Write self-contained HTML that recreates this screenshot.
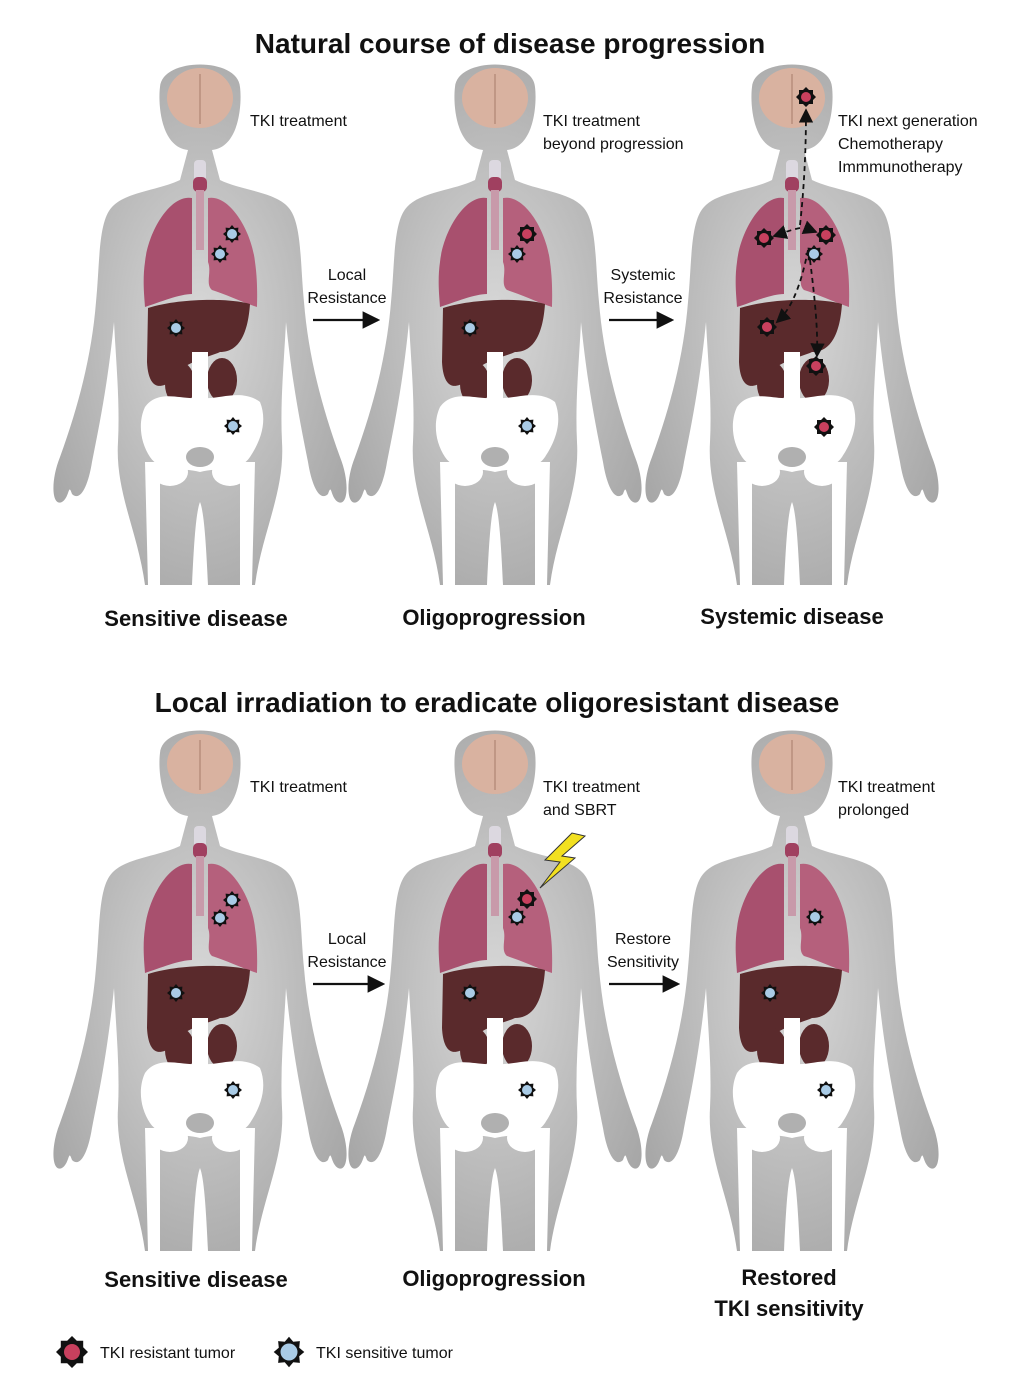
<!DOCTYPE html>
<html><head><meta charset="utf-8"><style>
body{margin:0;background:#fff;}
svg{display:block;}
text{font-family:"Liberation Sans",sans-serif;fill:#111;}
.t{font-size:28px;font-weight:bold;}
.l{font-size:22px;font-weight:bold;}
.s{font-size:16px;}
</style></head><body>
<svg width="1036" height="1386" viewBox="0 0 1036 1386" xmlns="http://www.w3.org/2000/svg">
<defs>
<radialGradient id="bg" cx="0.5" cy="0.5" r="0.6">
<stop offset="0" stop-color="#d8d8d8"/><stop offset="1" stop-color="#a6a6a6"/></radialGradient>
<g id="body">
<path fill="url(#bg)" d="M-12,88 C-40,85 -42,40 -40,25 C-38,-5 38,-5 40,25 C42,40 40,85 12,88 L20,118 C40,128 75,130 88,145 C102,160 100,200 104,240 C108,290 120,340 140,395 C150,420 148,445 138,440 C130,435 132,420 128,432 C120,440 112,425 108,400 C100,360 92,320 86,260 C84,300 80,340 82,380 C85,430 62,470 55,523 L8,523 C6,480 4,450 0,440 C-4,450 -6,480 -8,523 L-55,523 C-62,470 -85,430 -82,380 C-80,340 -84,300 -86,260 C-92,320 -100,360 -108,400 C-112,425 -120,440 -128,432 C-132,420 -130,435 -138,440 C-148,445 -150,420 -140,395 C-120,340 -108,290 -104,240 C-100,200 -102,160 -88,145 C-75,130 -40,128 -20,118 Z"/>
<ellipse cx="0" cy="36" rx="33" ry="30" fill="#d9b2a0"/>
<path d="M0,12 V62" stroke="#b88e7c" stroke-width="1.5"/>
<rect x="-6" y="98" width="12" height="25" rx="4" fill="#dcd8e0"/>
<rect x="-7" y="115" width="14" height="15" rx="5" fill="#a04060"/>
<rect x="-4" y="128" width="8" height="60" fill="#c89aaa"/>
<path fill="#a8506e" d="M-8,136 C-30,132 -52,170 -55,200 C-58,220 -55,240 -55,245 C-40,240 -20,232 -8,232 Z"/>
<path fill="#b5607c" d="M8,136 C30,132 52,170 55,200 C58,220 57,240 57,245 C42,240 25,232 12,228 C5,222 12,210 8,200 Z"/>
<path fill="#5a2a2c" d="M-52,246 C-20,236 30,236 50,242 C48,270 40,290 20,290 C10,295 -20,300 -30,320 C-45,330 -52,320 -53,300 Z"/>
<ellipse cx="-20" cy="322" rx="15" ry="22" fill="#5a2a2c"/>
<ellipse cx="22" cy="318" rx="15" ry="22" fill="#5a2a2c"/>
<rect x="-8" y="290" width="16" height="110" fill="#fff"/>
<path fill="#fff" d="M-55,345 C-40,325 -15,340 0,335 C15,340 40,325 60,340 C68,360 60,380 50,395 C40,410 20,405 0,410 C-20,405 -40,410 -50,395 C-60,380 -62,360 -55,345 Z"/>
<ellipse cx="-30" cy="410" rx="18" ry="14" fill="#fff"/>
<ellipse cx="30" cy="410" rx="18" ry="14" fill="#fff"/>
<path fill="#fff" d="M-55,400 L-40,400 L-40,523 L-52,523 Z M55,400 L40,400 L40,523 L52,523 Z"/>
<ellipse cx="0" cy="395" rx="14" ry="10" fill="#b0b0b0"/>
</g>
<g id="blue"><polygon fill="#111" points="0,-9 2.5,-6 6.4,-6.4 6,-2.5 9,0 6,2.5 6.4,6.4 2.5,6 0,9 -2.5,6 -6.4,6.4 -6,2.5 -9,0 -6,-2.5 -6.4,-6.4 -2.5,-6"/><circle r="5" fill="#a9cbe6"/></g>
<g id="red"><polygon fill="#111" points="0,-10 3,-7 7,-7 7,-3 10,0 7,3 7,7 3,7 0,10 -3,7 -7,7 -7,3 -10,0 -7,-3 -7,-7 -3,-7"/><circle r="5" fill="#c8405e"/></g>
<marker id="ah" markerWidth="8" markerHeight="8" refX="7" refY="4" orient="auto"><path d="M0,0 L8,4 L0,8 Z" fill="#111"/></marker>
</defs>

<text class="t" x="510" y="53" text-anchor="middle">Natural course of disease progression</text>
<use href="#body" x="200" y="62"/>
<use href="#body" x="495" y="62"/>
<use href="#body" x="792" y="62"/>
<use href="#blue" x="232" y="234"/><use href="#blue" x="220" y="254"/><use href="#blue" x="176" y="328"/><use href="#blue" x="233" y="426"/>
<use href="#red" x="527" y="234"/><use href="#blue" x="517" y="254"/><use href="#blue" x="470" y="328"/><use href="#blue" x="527" y="426"/>
<use href="#red" x="806" y="97"/><use href="#red" x="764" y="238"/><use href="#red" x="826" y="235"/><use href="#blue" x="814" y="254"/><use href="#red" x="767" y="327"/><use href="#red" x="816" y="366"/><use href="#red" x="824" y="427"/>
<g fill="none" stroke="#111" stroke-width="1.8" stroke-dasharray="5,4" marker-end="url(#ah)">
<path d="M800,225 C805,180 806,140 806,110"/>
<path d="M800,228 C790,230 780,234 774,236"/>
<path d="M806,228 L816,232"/>
<path d="M808,250 C800,290 790,310 777,322"/>
<path d="M810,260 C815,300 818,330 817,356"/>
</g>
<text class="s" x="250" y="126">TKI treatment</text>
<text class="s" x="543" y="126">TKI treatment</text><text class="s" x="543" y="149">beyond progression</text>
<text class="s" x="838" y="126">TKI next generation</text><text class="s" x="838" y="149">Chemotherapy</text><text class="s" x="838" y="172">Immmunotherapy</text>
<text class="s" x="347" y="280" text-anchor="middle">Local</text><text class="s" x="347" y="303" text-anchor="middle">Resistance</text>
<text class="s" x="643" y="280" text-anchor="middle">Systemic</text><text class="s" x="643" y="303" text-anchor="middle">Resistance</text>
<path d="M313,320 H378" stroke="#111" stroke-width="2.2" marker-end="url(#ah)"/>
<path d="M609,320 H672" stroke="#111" stroke-width="2.2" marker-end="url(#ah)"/>
<text class="l" x="196" y="626" text-anchor="middle">Sensitive disease</text>
<text class="l" x="494" y="625" text-anchor="middle">Oligoprogression</text>
<text class="l" x="792" y="624" text-anchor="middle">Systemic disease</text>

<text class="t" x="497" y="712" text-anchor="middle">Local irradiation to eradicate oligoresistant disease</text>
<use href="#body" x="200" y="728"/>
<use href="#body" x="495" y="728"/>
<use href="#body" x="792" y="728"/>
<use href="#blue" x="232" y="900"/><use href="#blue" x="220" y="918"/><use href="#blue" x="176" y="993"/><use href="#blue" x="233" y="1090"/>
<use href="#red" x="527" y="899"/><use href="#blue" x="517" y="917"/><use href="#blue" x="470" y="993"/><use href="#blue" x="527" y="1090"/>
<use href="#blue" x="815" y="917"/><use href="#blue" x="770" y="993"/><use href="#blue" x="826" y="1090"/>
<polygon points="572,833 545,860 560,862 540,888 575,858 562,856 585,836" fill="#f2e020" stroke="#333" stroke-width="1"/>
<text class="s" x="250" y="792">TKI treatment</text>
<text class="s" x="543" y="792">TKI treatment</text><text class="s" x="543" y="815">and SBRT</text>
<text class="s" x="838" y="792">TKI treatment</text><text class="s" x="838" y="815">prolonged</text>
<text class="s" x="347" y="944" text-anchor="middle">Local</text><text class="s" x="347" y="967" text-anchor="middle">Resistance</text>
<text class="s" x="643" y="944" text-anchor="middle">Restore</text><text class="s" x="643" y="967" text-anchor="middle">Sensitivity</text>
<path d="M313,984 H383" stroke="#111" stroke-width="2.2" marker-end="url(#ah)"/>
<path d="M609,984 H678" stroke="#111" stroke-width="2.2" marker-end="url(#ah)"/>
<text class="l" x="196" y="1287" text-anchor="middle">Sensitive disease</text>
<text class="l" x="494" y="1286" text-anchor="middle">Oligoprogression</text>
<text class="l" x="789" y="1285" text-anchor="middle">Restored</text>
<text class="l" x="789" y="1316" text-anchor="middle">TKI sensitivity</text>

<use href="#red" transform="translate(72,1352) scale(1.6)"/>
<text class="s" x="100" y="1358">TKI resistant tumor</text>
<use href="#blue" transform="translate(289,1352) scale(1.7)"/>
<text class="s" x="316" y="1358">TKI sensitive tumor</text>
</svg>
</body></html>
